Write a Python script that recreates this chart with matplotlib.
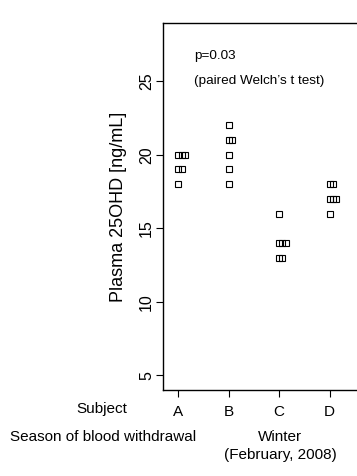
import numpy as np
import matplotlib
matplotlib.use("Agg")
import matplotlib.pyplot as plt

plt.rcParams["font.family"] = ["Liberation Sans", "DejaVu Sans"]

# data: plasma 25OHD per subject, six draws each
subjects = ["A", "B", "C", "D"]
values = {
    "A": [20, 20, 20, 19, 19, 18],
    "B": [22, 21, 21, 20, 19, 18],
    "C": [16, 14, 14, 14, 13, 13],
    "D": [18, 18, 17, 17, 17, 16],
}
yticks = [5, 10, 15, 20, 25]

W, H = 357, 476
fig = plt.figure(figsize=(W / 100, H / 100), dpi=100)
ax = fig.add_axes([163 / W, 1 - 390 / H, 210 / W, (390 - 23.5) / H])

# stacked strip chart: repeated values shift to the right
step = 0.068
for i, s in enumerate(subjects):
    seen = {}
    xs, ys = [], []
    for v in values[s]:
        k = seen.get(v, 0)
        seen[v] = k + 1
        xs.append(i + 1 + k * step)
        ys.append(v)
    ax.plot(xs, ys, "s", ms=4.4, mfc="none", mec="black", mew=0.8)

ax.set_xlim(0.70, 1 + 195 / 50.5)
ax.set_ylim(4.0, 28.93)
ax.set_yticks(yticks)
ax.set_yticklabels([str(t) for t in yticks], rotation=90, va="center", fontsize=11.5)
ax.set_xticks(range(1, len(subjects) + 1))
ax.set_xticklabels(subjects, fontsize=11)
ax.tick_params(direction="out", length=5, width=0.8)
ax.tick_params(axis="y", pad=1.5)
ax.tick_params(axis="x", pad=6)
for sp in ax.spines.values():
    sp.set_linewidth(1.0)

ax.set_ylabel("Plasma 25OHD [ng/mL]", fontsize=13)
ax.yaxis.set_label_coords(-0.172, 0.5)

ax.text(1.32, 26.7, "p=0.03", fontsize=9.7, va="center")
ax.text(1.32, 25.05, "(paired Welch\u2019s t test)", fontsize=9.7, va="center")

fig.text(102 / W, 1 - 409 / H, "Subject", fontsize=11, ha="center", va="center")
fig.text(103 / W, 1 - 437 / H, "Season of blood withdrawal", fontsize=11,
         ha="center", va="center")
fig.text(280.5 / W, 1 - 437 / H, "Winter", fontsize=11, ha="center", va="center")
fig.text(280.5 / W, 1 - 455 / H, "(February, 2008)", fontsize=11, ha="center", va="center")

fig.savefig("out.png", dpi=100)
